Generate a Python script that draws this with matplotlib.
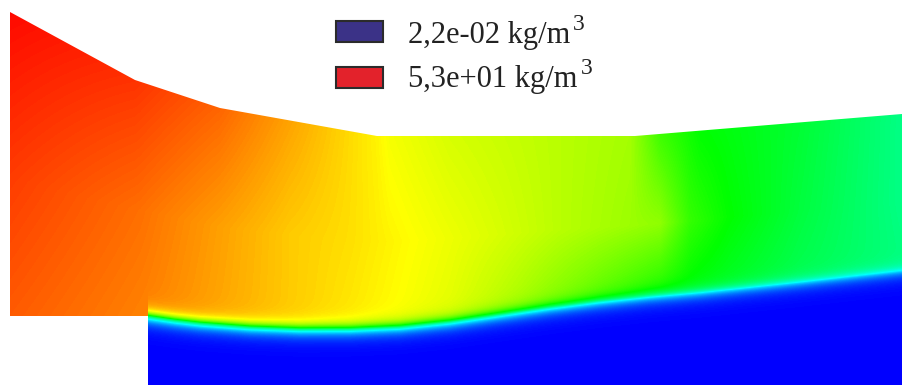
import numpy as np
import matplotlib
matplotlib.use("Agg")
import matplotlib.pyplot as plt
from matplotlib.colors import LinearSegmentedColormap
from matplotlib.patches import Polygon, Rectangle

# Domain outline (pixel-space geometry of the channel)
outline_x = [10, 135, 220, 377, 635, 902, 902, 148, 148, 10]
outline_y = [12, 80, 108, 136, 136, 114, 385, 385, 316, 316]
top_x = [10, 135, 220, 377, 635, 902]
top_y = [12, 80, 108, 136, 136, 114]
wall_y = 316
step_x = 148

# Interface between the light phase (above) and the dense phase (below)
iface_x = [148, 175, 200, 250, 300, 350, 400, 450, 500, 550, 600, 650, 700, 800, 902]
iface_y = [316, 320, 323, 327, 329, 329, 327, 322, 315, 308, 302, 297, 293, 283, 272]

# Normalised density level along the upper wall, mid-height and just above the interface
top_prof_x = [10, 135, 220, 300, 377, 390, 450, 560, 630, 660, 700, 800, 902]
top_prof_v = [0.99, 0.95, 0.90, 0.83, 0.76, 0.74, 0.71, 0.68, 0.66, 0.56, 0.50, 0.45, 0.37]
mid_prof_x = [10, 140, 290, 350, 410, 500, 560, 660, 690, 730, 800, 902]
mid_prof_v = [0.94, 0.89, 0.80, 0.78, 0.75, 0.71, 0.68, 0.64, 0.55, 0.50, 0.44, 0.37]
low_prof_x = [10, 148, 250, 330, 390, 450, 520, 600, 700, 800, 902]
low_prof_v = [0.91, 0.87, 0.82, 0.78, 0.75, 0.72, 0.66, 0.58, 0.48, 0.42, 0.38]
mid_frac = 0.55

legend_labels = ["2,2e-02 kg/m", "5,3e+01 kg/m"]
legend_sup = "3"
legend_colors = ["#3b3287", "#e3222b"]

W, H = 902, 385
fig = plt.figure(figsize=(W / 100, H / 100), dpi=100)
ax = fig.add_axes([0, 0, 1, 1])
ax.set_xlim(0, W)
ax.set_ylim(H, 0)
ax.axis("off")

cmap = LinearSegmentedColormap.from_list(
    "rainbow5", ["#0000ff", "#00ffff", "#00ff00", "#ffff00", "#ff0000"])

xs = np.arange(W) + 0.5
ys = np.arange(H) + 0.5
X, Y = np.meshgrid(xs, ys)

ytop = np.interp(xs, top_x, top_y)
yint = np.interp(xs, iface_x, iface_y)
ylow = np.where(xs < step_x, wall_y, yint)

Ut = np.interp(xs, top_prof_x, top_prof_v)
Um = np.interp(xs, mid_prof_x, mid_prof_v)
Ul = np.interp(xs, low_prof_x, low_prof_v)

t = np.clip((Y - ytop) / (ylow - ytop), 0, 1)
U = np.where(t < mid_frac,
             Ut + (Um - Ut) * t / mid_frac,
             Um + (Ul - Um) * (t - mid_frac) / (1 - mid_frac))

# Smooth step across the interface, slightly wider on the dense side
d = Y - yint
f = np.where(d < 0, 1 - 0.5 * np.exp(np.minimum(d, 0) / 4.5),
             0.5 * np.exp(-np.maximum(d, 0) / 6.0))
f = np.where(X < step_x, 1.0, f)
V = U * f

im = ax.imshow(V, cmap=cmap, vmin=0, vmax=1, extent=(0, W, H, 0),
               interpolation="bilinear", zorder=1)
clip = Polygon(np.column_stack([outline_x, outline_y]), closed=True,
               transform=ax.transData, facecolor="none", edgecolor="none")
ax.add_patch(clip)
im.set_clip_path(clip)

# Legend
box_y = [21, 67]
base_y = [43, 87]
labels = []
for i in range(2):
    ax.add_patch(Rectangle((336, box_y[i]), 47, 21, facecolor=legend_colors[i],
                           edgecolor="#2b2b2b", linewidth=1.5, zorder=3))
    labels.append(ax.text(408, base_y[i], legend_labels[i], fontsize=22,
                          family="Liberation Serif", color="#222222",
                          ha="left", va="baseline", zorder=3))

fig.canvas.draw()
renderer = fig.canvas.get_renderer()
inv = ax.transData.inverted()
for i, lab in enumerate(labels):
    bb = lab.get_window_extent(renderer)
    x_right = inv.transform((bb.x1, bb.y1))[0]
    ax.text(x_right + 3, base_y[i] - 13, legend_sup, fontsize=17,
            family="Liberation Serif", color="#222222",
            ha="left", va="baseline", zorder=3)

fig.savefig("out.png", dpi=100)
